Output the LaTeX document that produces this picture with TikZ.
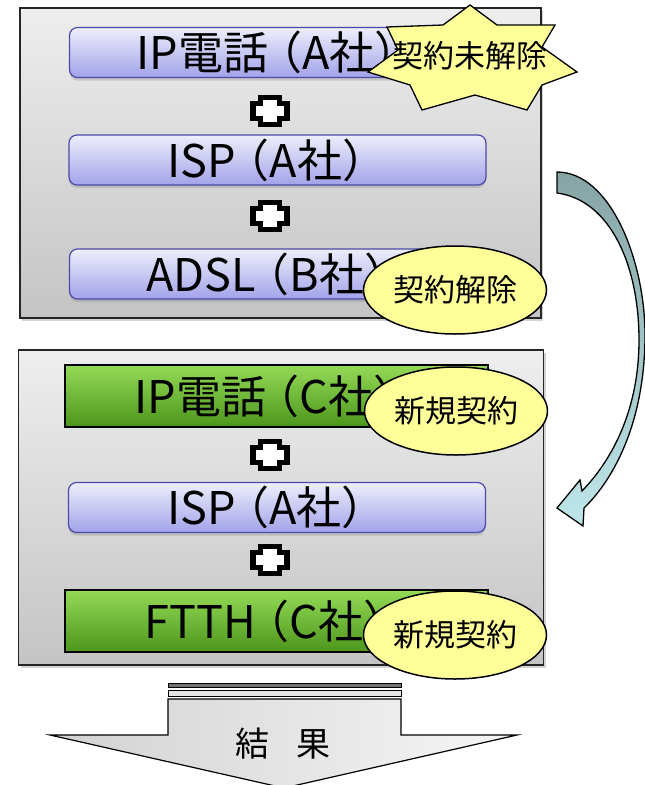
\documentclass[tikz,border=0pt]{standalone}
\usepackage{fontspec}
\setmainfont{Noto Sans CJK JP}
\usetikzlibrary{shadows,shapes.geometric}

\definecolor{panelTop}{HTML}{EEEEEE}
\definecolor{panelBot}{HTML}{C4C4C4}
\definecolor{bluTop}{HTML}{EEEEFC}
\definecolor{bluBot}{HTML}{A2A2EA}
\definecolor{bluLine}{HTML}{4A4AA8}
\definecolor{grnTop}{HTML}{94DA56}
\definecolor{grnBot}{HTML}{4C961C}
\definecolor{ylw}{HTML}{FFFF99}
\definecolor{arrTop}{HTML}{86A4A4}
\definecolor{arrBot}{HTML}{BEE6EA}
\definecolor{resL}{HTML}{D2D2D2}
\definecolor{resR}{HTML}{F6F6F6}

\newcommand{\lp}{\kern-0.25em（}

\tikzset{
  panel/.style={draw=black!85, line width=1.3pt, top color=panelTop, bottom color=panelBot,
    inner sep=0pt, drop shadow={opacity=0.35, shadow xshift=2pt, shadow yshift=-3pt}},
  svcblue/.style={rounded corners=8pt, draw=bluLine, line width=1.2pt, top color=bluTop,
    bottom color=bluBot, font=\fontsize{45}{45}\selectfont, inner sep=0pt,
    minimum width=417pt, minimum height=50pt,
    drop shadow={opacity=0.3, shadow xshift=0pt, shadow yshift=-3pt}},
  svcgreen/.style={draw=black, line width=1.3pt, top color=grnTop, bottom color=grnBot,
    font=\fontsize{45}{45}\selectfont, inner sep=0pt, minimum width=423pt, minimum height=62pt},
  tag/.style={ellipse, draw=black, line width=1.5pt, fill=ylw, font=\fontsize{31}{31}\selectfont,
    inner sep=0pt, minimum width=183pt, minimum height=88pt},
  plusmark/.style={fill=white, draw=black, line width=5.5pt, line join=miter},
  pics/plussign/.style={code={
    \draw[plusmark] (-9.5,-13.5) -- (9.5,-13.5) -- (9.5,-7.5) -- (17,-7.5) -- (17,7.5)
      -- (9.5,7.5) -- (9.5,13.5) -- (-9.5,13.5) -- (-9.5,7.5) -- (-17,7.5) -- (-17,-7.5)
      -- (-9.5,-7.5) -- cycle;}},
}

\begin{document}
\begin{tikzpicture}[x=1pt,y=-1pt]
\useasboundingbox (0,0) rectangle (645,785);

% ---------- top panel ----------
\node[panel, minimum width=521pt, minimum height=310pt] (top) at (280.5,163) {};
\node[svcblue] (ipA) at (278,52.5) {IP電話\lp A社）};
\node[svcblue] (ispA) at (277.5,160) {ISP\lp A社）};
\node[svcblue] (adsl) at (278,274) {ADSL\lp B社）};
\pic at (270,111) {plussign};
\pic at (270,216) {plussign};

% star
\draw[line width=1.3pt, fill=ylw, line join=miter]
  (470,5) -- (497,25) -- (555,25) -- (542,47) -- (577,72) -- (542,85) -- (527,110)
  -- (475,95) -- (422,110) -- (410,85) -- (368,72) -- (398,50) -- (387,27) -- (443,25) -- cycle;
\node[font=\fontsize{31}{31}\selectfont, inner sep=0pt] (unres) at (470,56) {契約未解除};

\node[tag] (cancel) at (455,290) {契約解除};

% ---------- bottom panel ----------
\node[panel, minimum width=525pt, minimum height=315pt] (bot) at (281,507.5) {};
\node[svcgreen] (ipC) at (276.5,396) {IP電話\lp C社）};
\node[svcblue] (ispA2) at (277,507.5) {ISP\lp A社）};
\node[svcgreen] (ftth) at (276.5,621) {FTTH\lp C社）};
\pic at (270,455) {plussign};
\pic at (270,560) {plussign};

\node[tag] (new1) at (456,411) {新規契約};
\node[tag] (new2) at (455,635) {新規契約};

% ---------- curved arrow ----------
\draw[line width=1.3pt, top color=arrTop, bottom color=arrBot, line join=miter]
  (557,172) .. controls (610,172) and (645,260) .. (645,335)
  .. controls (645,420) and (615,478) .. (584,508)
  -- (583,526) -- (557,508) -- (580,480) -- (582,491)
  .. controls (612,460) and (639,410) .. (639,340)
  .. controls (639,265) and (610,200) .. (557,193) -- cycle;

% ---------- result arrow ----------
\draw[line width=1pt, fill=black!55] (168,683) rectangle (401,687);
\draw[line width=1pt, fill=black!10] (168,690) rectangle (401,696);
\draw[line width=1.2pt, left color=resL, right color=resR]
  (168,699) -- (401,699) -- (401,735) -- (517,735) -- (284,788) -- (50,735) -- (168,735) -- cycle;
\node[font=\fontsize{34}{34}\selectfont, inner sep=0pt] (result) at (283,744) {結\hspace{0.8em}果};
\end{tikzpicture}
\end{document}
